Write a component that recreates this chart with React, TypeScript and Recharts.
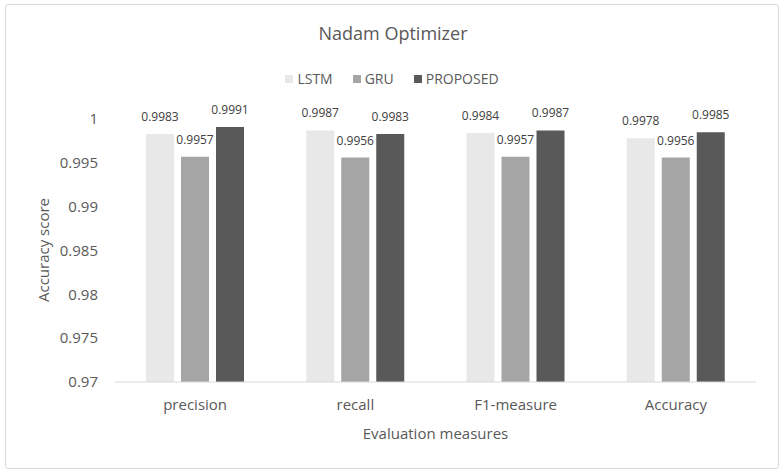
import React from 'react';
import { BarChart, Bar, XAxis, YAxis, Legend, LabelList } from 'recharts';

const categories = ['precision', 'recall', 'F1-measure', 'Accuracy'];
const lstm = [0.9983, 0.9987, 0.9984, 0.9978];
const gru = [0.9957, 0.9956, 0.9957, 0.9956];
const proposed = [0.9991, 0.9983, 0.9987, 0.9985];
const yTicks = [0.97, 0.975, 0.98, 0.985, 0.99, 0.995, 1];
const seriesNames = ['LSTM', 'GRU', 'PROPOSED'];
const seriesColors = ['#e8e8e8', '#a5a5a5', '#595959'];

const data = categories.map((c, i) => ({ name: c, LSTM: lstm[i], GRU: gru[i], PROPOSED: proposed[i] }));

const FONT = "'Open Sans', sans-serif";
const TEXT = '#595959';

const renderLegend = () => (
  <div style={{ display: 'flex', justifyContent: 'center', alignItems: 'center', fontFamily: FONT, fontSize: 14, color: TEXT, lineHeight: '20px' }}>
    {seriesNames.map((n, i) => (
      <span key={n} style={{ display: 'inline-flex', alignItems: 'center', marginRight: i < seriesNames.length - 1 ? 20 : 0 }}>
        <span style={{ width: 8, height: 8, background: seriesColors[i], marginRight: 4, display: 'inline-block' }} />
        {n}
      </span>
    ))}
  </div>
);

export default function App() {
  return (
    <div style={{ position: 'absolute', left: 0, top: 0, width: 784, height: 474, background: '#fff', fontFamily: FONT }}>
      <div style={{ position: 'absolute', left: 5, top: 4, width: 772, height: 463, border: '1px solid #d9d9d9', borderRadius: 3 }} />
      <div style={{ position: 'absolute', left: 0, top: 21, width: 786, textAlign: 'center', fontSize: 18, lineHeight: '24px', color: TEXT }}>
        Nadam Optimizer
      </div>
      <div style={{ position: 'absolute', left: 115, top: 423, width: 641, textAlign: 'center', fontSize: 15, lineHeight: '20px', color: TEXT }}>
        Evaluation measures
      </div>
      <div style={{ position: 'absolute', left: -57, top: 240, width: 200, height: 20, textAlign: 'center', fontSize: 15, lineHeight: '20px', color: TEXT, transform: 'rotate(-90deg)' }}>
        Accuracy score
      </div>
      <div style={{ position: 'absolute', left: 0, top: 0 }}>
        <BarChart width={784} height={474} data={data} margin={{ top: 119, right: 28, bottom: 62, left: 55 }} barSize={28} barGap={7}>
          <XAxis dataKey="name" height={30} axisLine={{ stroke: '#d9d9d9' }} tickLine={false} tickSize={0} tickMargin={17}
            tick={{ fontSize: 15, fill: TEXT, fontFamily: FONT }} />
          <YAxis width={60} domain={[0.97, 1]} ticks={yTicks} axisLine={false} tickLine={false} tickSize={0} tickMargin={17}
            tick={{ fontSize: 15, fill: TEXT, fontFamily: FONT }} allowDataOverflow />
          <Legend verticalAlign="middle" align="center" content={renderLegend}
            wrapperStyle={{ top: 69, left: 0, width: 784, height: 20 }} />
          {seriesNames.map((n, i) => (
            <Bar key={n} dataKey={n} fill={seriesColors[i]} isAnimationActive={false}>
              <LabelList dataKey={n} position="top" offset={13} style={{ fontSize: 12, fill: '#404040', fontFamily: FONT }} />
            </Bar>
          ))}
        </BarChart>
      </div>
    </div>
  );
}
